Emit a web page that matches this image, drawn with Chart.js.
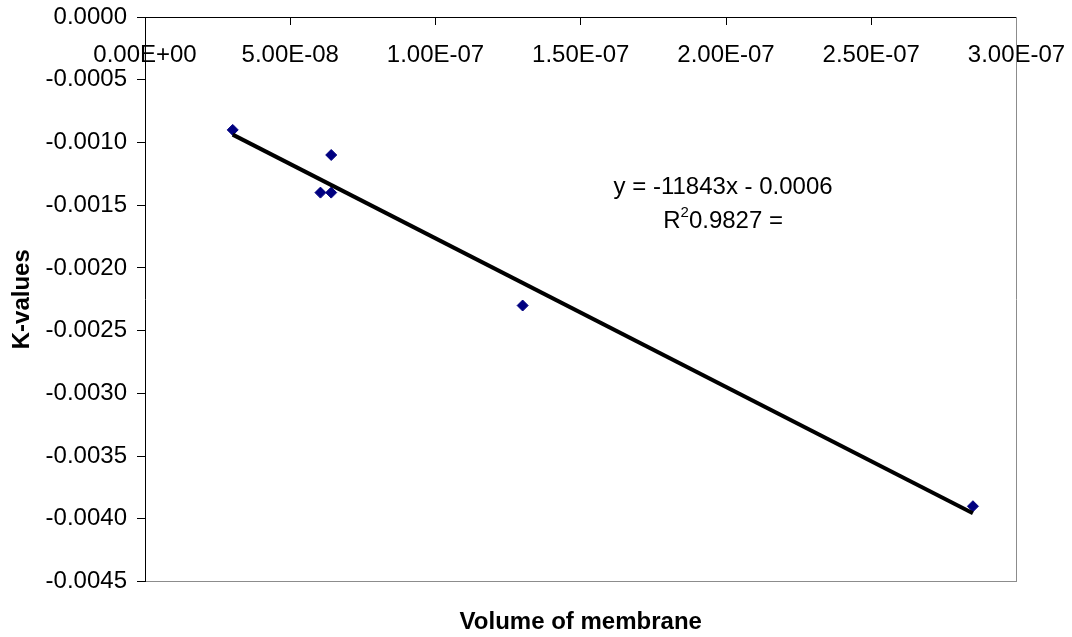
<!DOCTYPE html>
<html>
<head>
<meta charset="utf-8">
<title>K-values vs volume of membrane</title>
<script src="https://cdn.jsdelivr.net/npm/chart.js@4.4.1/dist/chart.umd.min.js"></script>
<style>
  html, body { margin: 0; padding: 0; background: #fff; }
  #wrap { width: 1072px; height: 637px; position: relative; }
</style>
</head>
<body>
<div id="wrap"><canvas id="chart"></canvas></div>
<script>
// Membrane volume (x) against measured K-value (y)
const volumes = [3.02e-8, 6.04e-8, 6.41e-8, 6.41e-8, 1.30e-7, 2.85e-7];
const kValues = [-0.0009, -0.0014, -0.0011, -0.0014, -0.0023, -0.0039];

// Linear trend line reported for the fit
const trendSlope = -11843;
const trendIntercept = -0.00058;
const trendR2 = 0.9827;

// Axis ranges and tick steps
const xRange = [0, 3.0e-7];
const xStep = 5e-8;
const yRange = [-0.0045, 0];
const yStep = 0.0005;

const FONT = "'Liberation Sans', Arial, Helvetica, sans-serif";

// Spreadsheet-style scientific notation: 5.00E-08
function sciLabel(v) {
  const [mant, exp] = Number(v).toExponential(2).split('e');
  const n = parseInt(exp, 10);
  const sign = n < 0 ? '-' : '+';
  return `${mant}E${sign}${String(Math.abs(n)).padStart(2, '0')}`;
}

// labels may overhang the plot frame; keep the frame where layout.padding puts it
function noOverhang(scale) {
  scale.paddingTop = 0;
  scale.paddingBottom = 0;
  scale.paddingLeft = 0;
  scale.paddingRight = 0;
}

const trendY = x => trendSlope * x + trendIntercept;
const xMin = Math.min(...volumes);
const xMax = Math.max(...volumes);

// Equation + R² text next to the trend line
const trendLabel = {
  id: 'trendLabel',
  afterDatasetsDraw(chart) {
    const { ctx, scales: { x, y } } = chart;
    const cx = x.getPixelForValue(1.99e-7);
    const cy = y.getPixelForValue(-0.00136);
    const big = `24px ${FONT}`;
    const small = `15px ${FONT}`;
    ctx.save();
    ctx.fillStyle = '#000';
    ctx.textBaseline = 'middle';
    ctx.textAlign = 'center';
    ctx.font = big;
    const sign = trendIntercept < 0 ? '-' : '+';
    ctx.fillText(`y = ${trendSlope}x ${sign} ${Math.abs(trendIntercept).toFixed(4)}`, cx, cy);

    // second line: R, raised 2, then the value
    const rest = `${trendR2.toFixed(4)} =`;
    const wR = ctx.measureText('R').width;
    const wRest = ctx.measureText(rest).width;
    ctx.font = small;
    const w2 = ctx.measureText('2').width;
    let left = cx - (wR + w2 + wRest) / 2;
    const cy2 = cy + 34;
    ctx.textAlign = 'left';
    ctx.font = big;
    ctx.fillText('R', left, cy2);
    left += wR;
    ctx.font = small;
    ctx.fillText('2', left, cy2 - 9);
    left += w2;
    ctx.font = big;
    ctx.fillText(rest, left, cy2);
    ctx.restore();
  }
};

new Chart(document.getElementById('chart'), {
  type: 'scatter',
  data: {
    datasets: [
      {
        label: 'Linear (K-values)',
        data: [{ x: xMin, y: trendY(xMin) }, { x: xMax, y: trendY(xMax) }],
        showLine: true,
        borderColor: '#000',
        borderWidth: 4,
        pointRadius: 0,
        order: 0,
        xAxisID: 'x',
        yAxisID: 'y'
      },
      {
        label: 'K-values',
        data: volumes.map((v, i) => ({ x: v, y: kValues[i] })),
        pointStyle: 'rectRot',
        pointRadius: 5.5,
        backgroundColor: '#000080',
        borderColor: '#000080',
        borderWidth: 1,
        order: 1,
        xAxisID: 'x',
        yAxisID: 'y'
      }
    ]
  },
  options: {
    responsive: true,
    maintainAspectRatio: false,
    animation: false,
    layout: { padding: { top: 17, right: 55.5, bottom: 0, left: 0 } },
    plugins: {
      legend: { display: false },
      tooltip: { enabled: false }
    },
    scales: {
      x: {
        type: 'linear',
        position: { y: 0 },
        min: xRange[0],
        max: xRange[1],
        ticks: {
          stepSize: xStep,
          callback: v => sciLabel(v),
          color: '#000',
          font: { family: FONT, size: 24 },
          padding: 17,
          maxRotation: 0,
          autoSkip: false
        },
        grid: { drawOnChartArea: false, drawTicks: true, tickLength: 7, color: '#000' },
        border: { display: true, color: '#000', width: 1 },
        afterFit: noOverhang
      },
      x2: {
        type: 'linear',
        axis: 'x',
        position: 'bottom',
        min: xRange[0],
        max: xRange[1],
        ticks: { display: false },
        grid: { display: false },
        border: { display: true, color: '#8c8c8c', width: 1 },
        title: {
          display: true,
          text: 'Volume of membrane',
          color: '#000',
          font: { family: FONT, size: 24, weight: 'bold' },
          padding: { top: 0, bottom: 0 }
        },
        afterFit(scale) {
          noOverhang(scale);
          scale.height = 55.5;
        }
      },
      y: {
        type: 'linear',
        position: 'left',
        min: yRange[0],
        max: yRange[1],
        ticks: {
          stepSize: yStep,
          callback: v => Number(v).toFixed(4),
          color: '#000',
          font: { family: FONT, size: 24 },
          padding: 10
        },
        grid: { drawOnChartArea: false, drawTicks: true, tickLength: 8, color: '#000' },
        border: { display: true, color: '#000', width: 1 },
        title: {
          display: true,
          text: 'K-values',
          color: '#000',
          font: { family: FONT, size: 24, weight: 'bold' },
          padding: { top: 8, bottom: 0 }
        },
        afterFit(scale) {
          noOverhang(scale);
          scale.width = 145;
        }
      },
      y2: {
        type: 'linear',
        axis: 'y',
        position: 'right',
        min: yRange[0],
        max: yRange[1],
        ticks: { display: false },
        grid: { display: false },
        border: { display: true, color: '#8c8c8c', width: 1 },
        afterFit(scale) {
          noOverhang(scale);
          scale.width = 0;
        }
      }
    }
  },
  plugins: [trendLabel]
});
</script>
</body>
</html>
